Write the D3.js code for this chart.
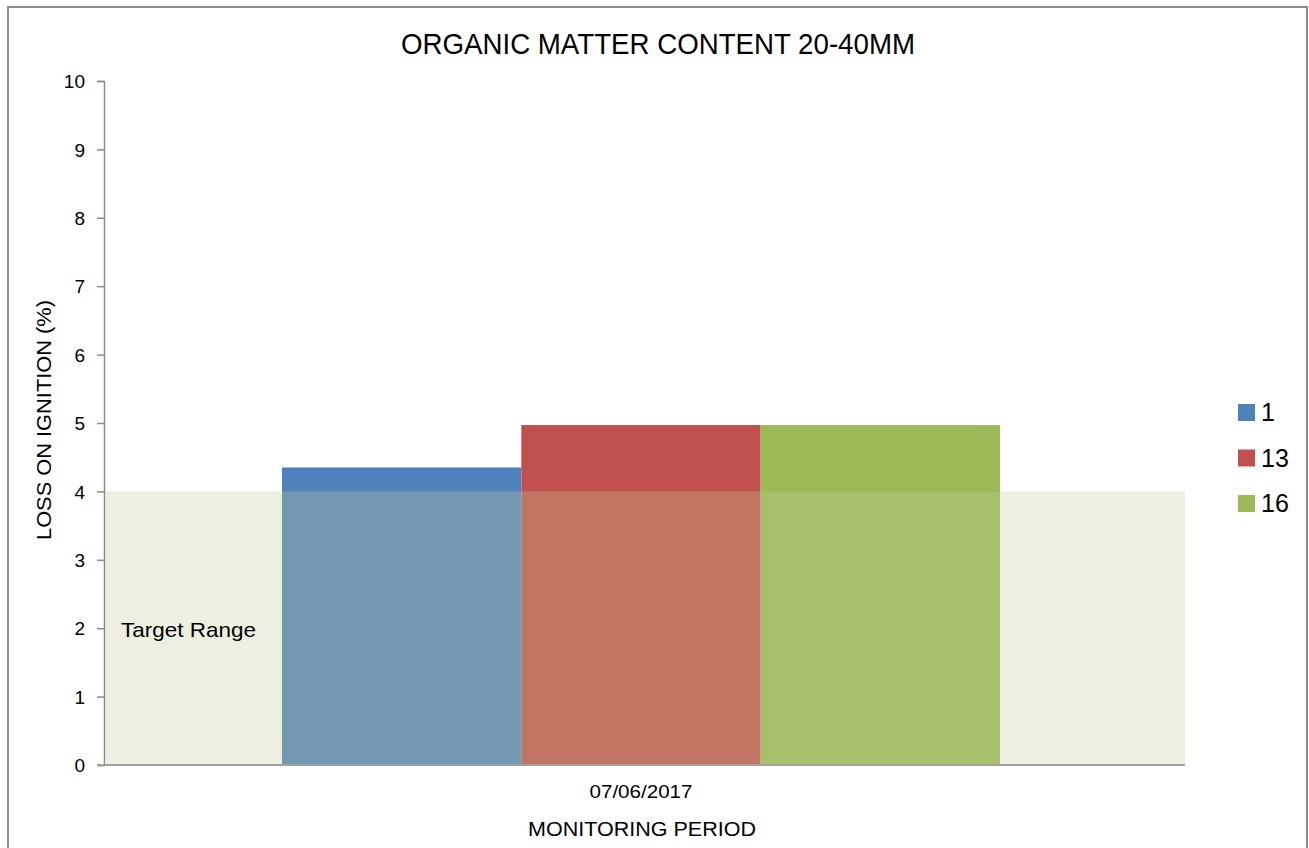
<!DOCTYPE html>
<html>
<head>
<meta charset="utf-8">
<script src="https://cdn.jsdelivr.net/npm/d3@7"></script>
<style>
  body { margin: 0; background: #fff; }
  text { font-family: "Liberation Sans", Arial, sans-serif; fill: #000; }
</style>
</head>
<body>
<div id="chart"></div>
<script>
// data
var periods = ["07/06/2017"]
var series = ["1", "13", "16"]
var values = [4.35, 4.97, 4.97]
var colours = ["#4F81BD", "#C0504D", "#9BBB59"]
var target_range = [0, 4]
var y_ticks = [0, 1, 2, 3, 4, 5, 6, 7, 8, 9, 10]

var width = 1309
var height = 848

var svg = d3.select("#chart")
			.append("svg")
			.attr("width", width)
			.attr("height", height)

// outer frame of the chart (bottom edge runs off the page)
svg.append("rect")
	.attr("x", 8)
	.attr("y", 7)
	.attr("width", 1299)
	.attr("height", 860)
	.attr("fill", "none")
	.attr("stroke", "#8c8c8c")
	.attr("stroke-width", 2)

var plot_left = 104
var plot_right = 1185
var plot_top = 81
var plot_bottom = 765

var y = d3.scaleLinear()
			.domain([0, 10])
			.range([plot_bottom, plot_top])

var x0 = d3.scaleBand()
			.domain(periods)
			.range([plot_left - 7, plot_right])
			.paddingOuter(0.2577)

var x1 = d3.scaleBand()
			.domain(series)
			.range([0, x0.bandwidth()])

// bars
var group = svg.append("g")
				.attr("transform", "translate(" + x0(periods[0]) + ",0)")
group.selectAll("rect")
	.data(series)
	.enter()
	.append("rect")
	.attr("x", function(d) { return x1(d) })
	.attr("width", x1.bandwidth())
	.attr("y", function(d, i) { return y(values[i]) })
	.attr("height", function(d, i) { return y(0) - y(values[i]) })
	.attr("fill", function(d, i) { return colours[i] })

// target range band, see-through over the bars
svg.append("rect")
	.attr("x", plot_left + 2)
	.attr("width", plot_right - plot_left - 2)
	.attr("y", y(target_range[1]))
	.attr("height", y(target_range[0]) - y(target_range[1]))
	.attr("fill", "rgb(195,205,152)")
	.attr("fill-opacity", 0.3)

svg.append("text")
	.attr("x", 121)
	.attr("y", 637)
	.attr("font-size", 21)
	.attr("textLength", 135)
	.attr("lengthAdjust", "spacingAndGlyphs")
	.text("Target Range")

// y axis
var y_axis = svg.append("g")
				.attr("transform", "translate(" + plot_left + ",0)")
				.call(d3.axisLeft(y).tickValues(y_ticks).tickSize(7).tickPadding(12))
y_axis.select(".domain").attr("stroke", "#8c8c8c").attr("stroke-width", 1.5)
y_axis.selectAll(".tick line").attr("stroke", "#8c8c8c").attr("stroke-width", 1.5)
y_axis.selectAll(".tick text")
	.attr("font-size", 19)
	.attr("fill", "#000")
	.attr("dy", "0.35em")

// x axis
var x_axis = svg.append("g")
				.attr("transform", "translate(0," + plot_bottom + ")")
				.call(d3.axisBottom(x0).tickSize(0).tickPadding(20))
x_axis.select(".domain")
	.attr("d", "M" + (plot_left - 7) + ",0H" + plot_right)
	.attr("stroke", "#a0a0a0")
	.attr("stroke-width", 2)
x_axis.selectAll(".tick text")
	.attr("font-size", 19)
	.attr("fill", "#000")
	.attr("dy", "0.71em")
	.attr("textLength", 103)
	.attr("lengthAdjust", "spacingAndGlyphs")

// titles
svg.append("text")
	.attr("x", 658)
	.attr("y", 54)
	.attr("text-anchor", "middle")
	.attr("font-size", 29)
	.attr("textLength", 514)
	.attr("lengthAdjust", "spacingAndGlyphs")
	.text("ORGANIC MATTER CONTENT 20-40MM")

svg.append("text")
	.attr("x", 642)
	.attr("y", 836)
	.attr("text-anchor", "middle")
	.attr("font-size", 21)
	.attr("textLength", 228)
	.attr("lengthAdjust", "spacingAndGlyphs")
	.text("MONITORING PERIOD")

svg.append("text")
	.attr("transform", "translate(51,420) rotate(-90)")
	.attr("text-anchor", "middle")
	.attr("font-size", 20)
	.attr("textLength", 240)
	.attr("lengthAdjust", "spacingAndGlyphs")
	.text("LOSS ON IGNITION (%)")

// legend
var legend = svg.append("g")
				.attr("transform", "translate(1238,404)")
var item = legend.selectAll("g")
				.data(series)
				.enter()
				.append("g")
				.attr("transform", function(d, i) { return "translate(0," + i * 45.5 + ")" })
item.append("rect")
	.attr("width", 17)
	.attr("height", 17)
	.attr("fill", function(d, i) { return colours[i] })
item.append("text")
	.attr("x", 23)
	.attr("y", 17)
	.attr("font-size", 25)
	.text(function(d) { return d })
</script>
</body>
</html>
